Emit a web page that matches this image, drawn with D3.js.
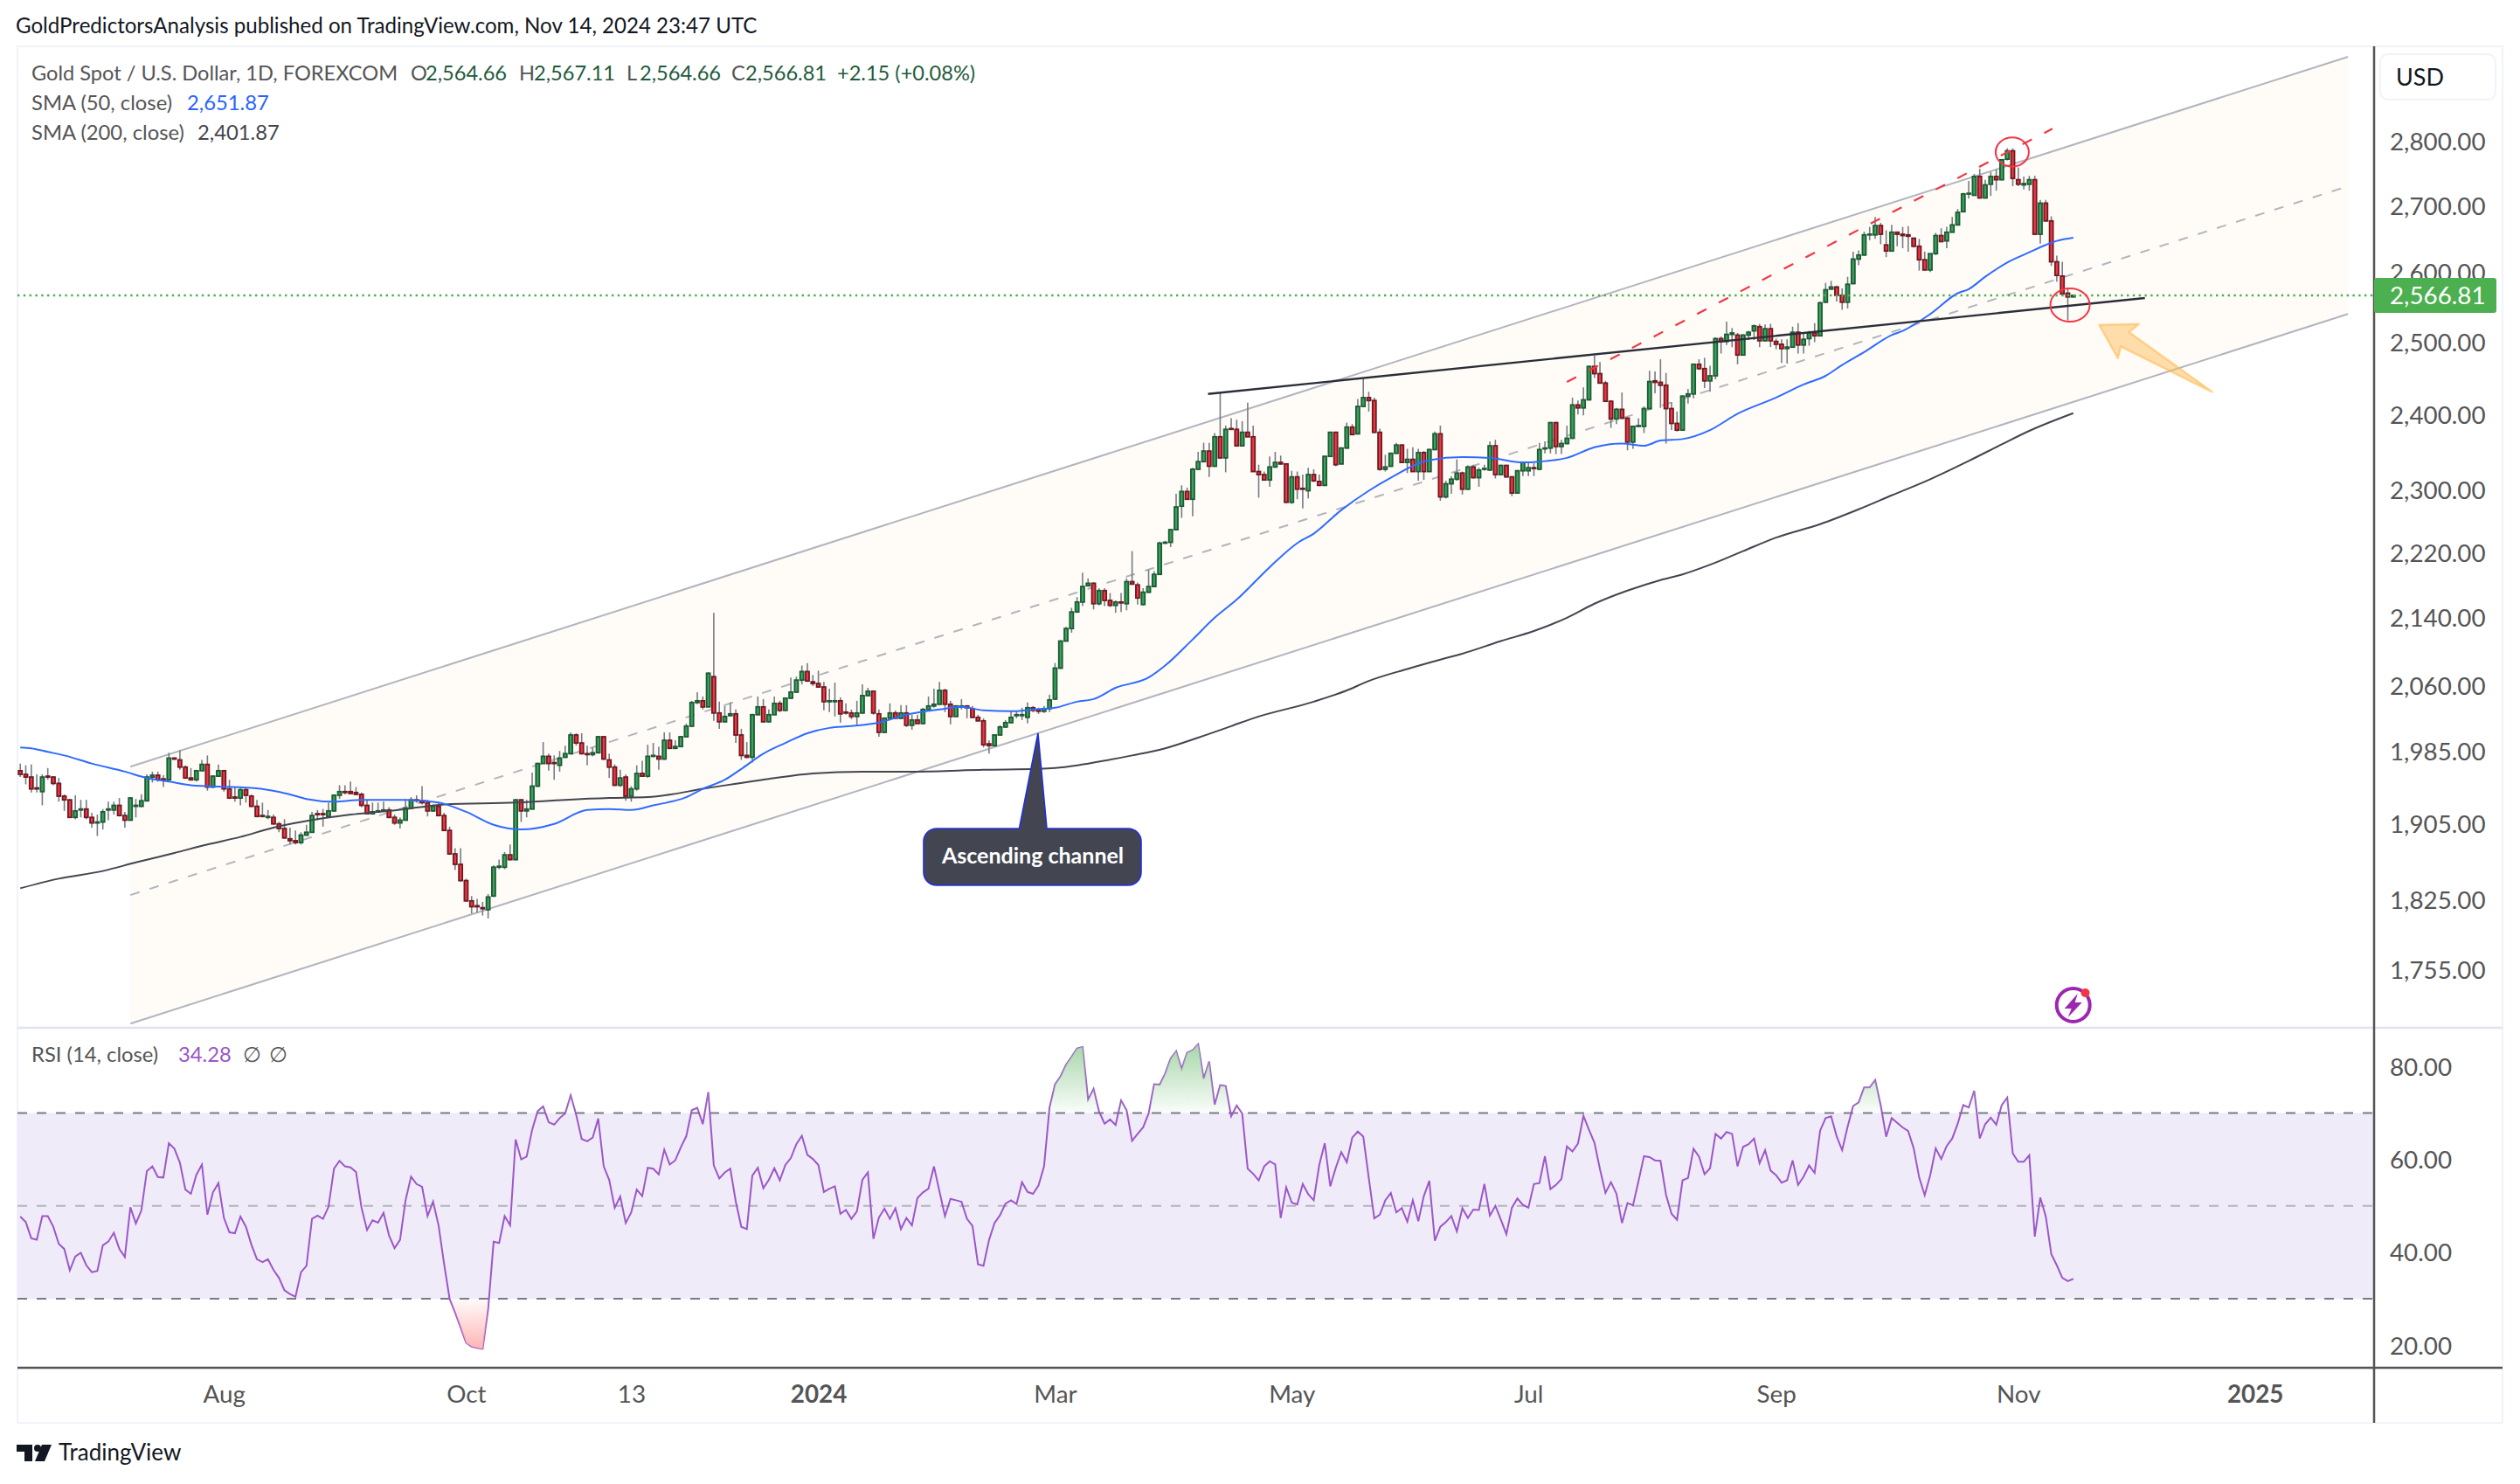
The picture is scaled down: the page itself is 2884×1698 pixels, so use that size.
<![CDATA[<!DOCTYPE html>
<html><head><meta charset="utf-8">
<script src="https://cdn.jsdelivr.net/npm/d3@7"></script>
<style>html,body{margin:0;padding:0;background:#fff}svg{display:block}text{font-family:"Lato","Noto Sans",sans-serif}</style>
</head><body><div id="c"></div>
<script>
const opens=[1963,1959,1956,1944,1940,1957,1956,1949,1935,1931,
1912,1920,1921,1912,1906,1907,1920,1920,1925,1914,
1909,1924,1924,1930,1956,1958,1954,1953,1977,1975,
1967,1955,1953,1963,1970,1945,1957,1963,1943,1934,
1933,1942,1935,1924,1914,1912,1912,1905,1900,1889,
1887,1885,1893,1896,1916,1916,1913,1919,1936,1940,
1940,1939,1937,1925,1916,1918,1919,1920,1912,1906,
1909,1922,1931,1930,1928,1919,1924,1914,1898,1873,
1862,1845,1824,1819,1817,1815,1829,1859,1859,1872,
1867,1931,1919,1921,1946,1971,1979,1972,1969,1978,
1982,2003,1994,1982,1981,1983,2001,1975,1967,1947,
1956,1935,1943,1960,1957,1979,1979,1976,1997,1988,
1990,2001,2013,2040,2042,2035,2070,2028,2018,2025,
2027,2003,1980,1978,2026,2035,2018,2026,2039,2031,
2045,2052,2066,2076,2064,2062,2058,2041,2041,2042,
2029,2028,2024,2028,2048,2053,2027,2006,2022,2028,
2022,2028,2014,2020,2016,2032,2036,2038,2054,2038,
2024,2035,2036,2033,2023,2019,1993,1991,2003,2012,
2017,2025,2025,2023,2034,2031,2030,2033,2044,2080,
2112,2127,2147,2159,2179,2182,2157,2173,2161,2155,
2159,2157,2184,2180,2156,2171,2178,2193,2232,2233,
2249,2279,2298,2288,2327,2337,2351,2331,2370,2342,
2381,2380,2358,2376,2370,2324,2320,2313,2330,2336,
2334,2284,2317,2302,2299,2320,2311,2306,2344,2376,
2334,2355,2383,2374,2411,2423,2419,2376,2327,2331,
2348,2359,2336,2340,2324,2349,2324,2353,2374,2291,
2308,2314,2322,2301,2330,2316,2327,2326,2358,2320,
2332,2317,2296,2325,2325,2329,2327,2354,2355,2389,
2357,2361,2368,2413,2409,2420,2466,2456,2443,2418,
2394,2407,2395,2363,2384,2384,2408,2446,2444,2440,
2408,2388,2379,2425,2428,2469,2463,2446,2453,2505,
2501,2511,2510,2482,2510,2516,2522,2502,2519,2501,
2497,2491,2493,2514,2496,2505,2513,2509,2557,2576,
2579,2567,2557,2584,2620,2626,2656,2656,2670,2641,
2632,2660,2657,2656,2651,2639,2619,2604,2628,2655,
2647,2660,2671,2691,2718,2716,2745,2712,2733,2745,
2740,2772,2785,2740,2732,2733,2740,2657,2704,2677,
2616,2595,2570,2564.66];
const closes=[1959,1956,1943,1943,1956,1956,1949,1935,1931,1912,
1919,1921,1912,1906,1907,1918,1921,1925,1914,1909,
1933,1925,1930,1956,1958,1953,1953,1977,1976,1967,
1955,1953,1963,1970,1945,1957,1963,1943,1933,1933,
1942,1936,1924,1913,1913,1913,1905,1900,1890,1887,
1885,1893,1896,1914,1915,1915,1919,1936,1940,1939,
1938,1937,1925,1916,1918,1919,1920,1912,1906,1909,
1922,1931,1930,1928,1919,1924,1914,1898,1873,1862,
1845,1824,1818,1818,1816,1828,1859,1860,1872,1867,
1931,1919,1921,1946,1971,1979,1971,1971,1977,1982,
2003,1994,1982,1981,1983,2001,1976,1967,1947,1955,
1935,1943,1960,1957,1979,1980,1976,1997,1988,1990,
2001,2013,2040,2042,2035,2074,2028,2018,2024,2027,
2003,1980,1978,2026,2035,2018,2026,2039,2031,2045,
2052,2066,2076,2065,2062,2058,2041,2042,2042,2027,
2028,2024,2028,2048,2053,2028,2006,2022,2028,2022,
2028,2014,2020,2016,2032,2036,2038,2054,2038,2024,
2036,2036,2034,2023,2019,1992,1991,2003,2012,2017,
2023,2026,2026,2034,2031,2030,2033,2043,2080,2112,
2127,2147,2159,2178,2182,2157,2173,2161,2155,2159,
2158,2184,2181,2164,2171,2178,2193,2232,2233,2249,
2278,2298,2288,2327,2337,2351,2331,2370,2342,2380,
2380,2358,2376,2370,2324,2320,2313,2330,2336,2334,
2284,2317,2301,2301,2320,2312,2306,2344,2376,2333,
2355,2383,2373,2411,2423,2419,2376,2327,2330,2348,
2359,2336,2340,2324,2349,2324,2353,2374,2291,2308,
2314,2322,2301,2330,2316,2326,2328,2358,2320,2332,
2317,2296,2325,2336,2329,2328,2353,2355,2389,2357,
2361,2368,2413,2409,2420,2466,2456,2443,2418,2394,
2407,2395,2363,2384,2385,2408,2445,2444,2440,2408,
2388,2379,2425,2428,2469,2463,2446,2453,2505,2501,
2511,2513,2482,2510,2514,2523,2502,2519,2502,2497,
2491,2493,2514,2496,2504,2513,2509,2556,2575,2579,
2567,2557,2583,2620,2626,2656,2657,2670,2657,2632,
2660,2657,2655,2654,2639,2619,2604,2628,2655,2646,
2660,2671,2690,2718,2719,2745,2712,2732,2745,2740,
2771,2785,2742,2733,2734,2740,2657,2704,2677,2616,
2596,2569,2564.66,2566.81];
const highs=[1971,1969,1970,1959,1959,1966,1957,1955,1937,1932,
1936,1931,1931,1917,1915,1921,1929,1929,1933,1918,
1934,1932,1937,1959,1962,1962,1958,1983,1978,1986,
1969,1966,1964,1975,1980,1958,1970,1964,1953,1945,
1945,1945,1937,1931,1928,1920,1915,1907,1910,1901,
1898,1896,1904,1918,1920,1921,1928,1937,1947,1947,
1951,1945,1939,1931,1928,1928,1929,1923,1915,1912,
1932,1934,1936,1946,1931,1926,1928,1917,1902,1879,
1879,1847,1829,1826,1823,1831,1861,1867,1875,1883,
1932,1932,1931,1961,1972,1995,1982,1980,1985,1991,
2006,2005,2005,1991,1989,2002,2002,1982,1970,1964,
1959,1946,1969,1974,1992,1994,1990,2006,2006,1997,
2002,2016,2042,2052,2047,2075,2146,2041,2036,2040,
2032,2010,1995,2027,2047,2044,2032,2047,2042,2046,
2069,2070,2083,2086,2072,2077,2064,2056,2063,2046,
2039,2032,2042,2061,2057,2054,2032,2023,2039,2031,
2037,2037,2026,2026,2034,2047,2056,2064,2056,2042,
2037,2044,2037,2036,2026,2022,1997,2004,2014,2020,
2030,2030,2034,2040,2036,2034,2036,2049,2086,2113,
2129,2152,2165,2195,2188,2183,2176,2176,2170,2161,
2170,2188,2222,2183,2176,2199,2197,2234,2235,2250,
2295,2306,2303,2329,2350,2362,2362,2375,2429,2385,
2395,2393,2391,2416,2385,2333,2324,2344,2350,2345,
2335,2325,2324,2320,2329,2327,2320,2345,2377,2377,
2356,2389,2387,2421,2449,2431,2423,2381,2346,2349,
2362,2360,2354,2356,2354,2351,2354,2377,2385,2312,
2318,2340,2324,2332,2333,2329,2333,2364,2366,2333,
2333,2318,2326,2337,2336,2335,2362,2364,2390,2390,
2366,2385,2423,2419,2437,2467,2481,2472,2446,2419,
2409,2430,2397,2385,2395,2411,2460,2459,2476,2457,
2417,2404,2426,2435,2470,2476,2478,2467,2507,2508,
2529,2520,2513,2511,2516,2525,2526,2525,2526,2505,
2504,2504,2522,2527,2512,2516,2527,2558,2585,2588,
2581,2577,2594,2631,2633,2661,2668,2683,2674,2663,
2671,2661,2668,2669,2652,2650,2631,2628,2659,2666,
2668,2683,2695,2720,2738,2749,2757,2740,2752,2756,
2772,2789,2789,2759,2745,2746,2746,2709,2709,2684,
2625,2616,2578,2567.11];
const lows=[1956,1948,1939,1939,1925,1953,1947,1929,1919,1912,
1910,1912,1910,1901,1892,1899,1909,1915,1913,1901,
1909,1912,1923,1929,1950,1951,1945,1952,1975,1964,
1954,1952,1951,1963,1941,1944,1957,1940,1932,1929,
1925,1928,1923,1913,1912,1910,1904,1896,1889,1883,
1883,1883,1892,1896,1909,1902,1912,1918,1932,1937,
1937,1936,1923,1915,1915,1917,1918,1911,1904,1900,
1909,1921,1928,1926,1913,1918,1913,1898,1872,1856,
1844,1823,1811,1812,1809,1806,1828,1857,1857,1866,
1866,1907,1912,1921,1945,1971,1963,1953,1962,1977,
1982,1991,1981,1969,1979,1983,1975,1955,1946,1945,
1930,1929,1941,1956,1955,1978,1964,1975,1987,1987,
1990,2000,2012,2038,2032,2035,2019,2010,2017,2024,
1994,1975,1977,1972,2026,2017,2017,2026,2029,2030,
2044,2052,2061,2064,2059,2057,2031,2029,2024,2017,
2026,2021,2014,2027,2047,2026,2001,2005,2021,2021,
2021,2012,2009,2015,2015,2031,2034,2037,2029,2015,
2024,2032,2022,2022,2019,1989,1982,1990,2002,2011,
2016,2022,2020,2016,2029,2027,2028,2029,2043,2079,
2112,2122,2146,2154,2178,2150,2155,2154,2153,2146,
2147,2149,2180,2156,2155,2170,2177,2192,2231,2227,
2248,2264,2287,2266,2326,2336,2317,2330,2341,2323,
2379,2357,2357,2370,2324,2290,2312,2304,2329,2333,
2283,2282,2288,2276,2289,2310,2305,2305,2343,2331,
2333,2354,2373,2373,2410,2404,2375,2325,2324,2330,
2348,2335,2322,2324,2312,2313,2324,2352,2286,2289,
2295,2312,2294,2300,2315,2304,2325,2325,2315,2319,
2316,2292,2295,2318,2318,2318,2326,2348,2348,2347,
2347,2360,2368,2400,2399,2419,2450,2442,2417,2382,
2387,2394,2352,2354,2383,2375,2407,2429,2409,2361,
2379,2377,2378,2415,2422,2461,2436,2431,2448,2484,
2496,2493,2469,2482,2503,2503,2493,2501,2493,2490,
2471,2470,2492,2484,2484,2495,2500,2508,2556,2575,
2558,2546,2548,2583,2611,2625,2648,2650,2642,2623,
2631,2639,2636,2631,2637,2603,2603,2601,2626,2645,
2636,2660,2670,2690,2711,2716,2711,2711,2715,2723,
2739,2770,2730,2730,2725,2723,2656,2643,2676,2610,
2587,2568,2531,2564.66];
const rsiValues=[47.7,46.5,43.0,42.7,47.8,47.8,45.5,41.8,40.7,36.1,
39.1,39.9,37.2,35.7,36.0,41.5,42.3,44.2,40.7,39.0,
49.7,46.2,49.0,57.5,58.5,56.2,56.1,63.5,62.3,59.3,
53.5,52.6,56.7,58.9,48.1,52.9,54.9,47.4,44.3,44.1,
47.7,45.5,41.6,38.5,37.9,38.5,36.2,34.5,31.8,31.0,
30.4,35.7,37.1,47.2,47.9,47.2,49.8,58.0,59.7,58.5,
58.3,57.3,49.6,44.8,46.9,46.4,48.5,43.6,40.9,42.7,
51.2,56.3,54.7,54.1,47.8,50.9,45.8,37.5,30.0,27.0,
23.8,20.5,19.7,19.4,19.2,27.7,42.3,42.0,47.8,45.8,
64.3,60.0,60.6,66.4,70.4,71.4,68.0,67.5,68.9,69.9,
73.8,69.6,64.4,63.9,64.7,68.8,58.5,55.6,49.6,52.0,
46.3,48.6,53.5,52.1,58.2,58.0,56.8,62.1,58.9,59.8,
62.6,65.0,70.6,71.1,67.6,74.5,58.7,55.9,57.2,58.0,
50.9,45.5,45.0,56.5,58.2,53.8,55.6,58.1,55.5,58.8,
60.3,63.3,65.1,61.0,60.1,58.8,53.0,53.7,54.2,48.3,
49.1,47.2,48.8,55.6,57.2,42.9,47.5,49.4,47.2,49.5,
45.0,47.4,45.8,51.7,52.9,53.7,58.5,53.1,47.8,51.5,
51.2,50.9,47.2,45.7,37.4,37.1,42.6,46.3,48.0,50.5,
51.2,50.4,55.1,53.0,52.6,54.4,58.5,71.2,76.2,77.9,
80.4,82.1,83.9,84.2,72.9,75.2,70.3,67.7,68.6,67.4,
72.7,70.6,64.0,65.5,66.9,69.9,76.2,76.1,78.5,81.7,
83.3,79.5,83.0,83.5,84.8,77.4,81.1,71.8,76.0,75.8,
69.3,71.6,69.9,58.0,56.9,55.5,58.5,59.6,58.9,47.4,
54.0,50.7,50.3,54.7,52.5,51.2,58.8,63.5,54.2,58.2,
61.6,59.4,64.7,66.0,64.9,56.0,47.3,48.1,51.2,52.8,
48.6,49.5,46.6,51.2,46.7,52.1,55.4,42.5,45.5,46.5,
47.8,44.5,49.5,47.4,49.2,49.1,54.7,47.9,50.0,47.0,
43.9,49.6,51.6,50.2,49.6,54.7,54.9,60.7,53.6,54.5,
55.8,62.8,61.7,63.4,69.4,66.4,63.6,57.9,52.8,55.1,
52.6,46.3,50.6,50.1,55.3,60.7,60.5,59.8,59.7,52.4,
48.3,47.0,55.5,56.0,62.3,60.6,56.8,58.1,65.5,64.5,
65.9,65.5,58.5,62.7,63.3,64.5,59.2,62.0,57.6,56.6,
55.0,55.5,59.8,54.5,56.3,58.7,57.1,66.2,68.9,69.3,
65.0,62.0,67.1,71.5,72.3,75.5,75.5,77.1,71.7,64.9,
68.9,67.9,66.9,66.1,62.4,56.1,52.3,56.6,62.4,60.1,
62.9,64.5,67.7,71.7,71.2,74.8,64.5,67.6,69.0,67.5,
71.7,73.3,61.3,59.5,59.5,60.9,43.4,51.8,47.7,39.6,
37.2,34.5,33.8,34.28];
const sma50Bars=[1,3,6,9,14,20,24,28,32,35,43,50,53,58,63,71,77,82,87,92,98,104,108,112,116,122,125,129,132,136,140,144,148,152,157,162,168,172,176,181,185,189,193,196,200,206,209,214,218,222,228,233,236,241,246,250,257,263,268,274,277,282,287,292,296,299,303,308,313,320,325,329,332,336,341,343,348,353,355,358,362,366,369,371,374];
const sma50Values=[1989,1988,1984,1980,1971,1962,1955,1951,1947,1946,1944,1937,1932,1929,1931,1931,1928,1918,1904,1899,1905,1920,1921,1920,1925,1934,1943,1953,1965,1982,1994,2005,2011,2013,2017,2026,2032,2035,2031,2030,2032,2034,2041,2044,2057,2069,2083,2114,2140,2162,2202,2232,2244,2274,2299,2316,2339,2343,2342,2336,2337,2342,2356,2361,2358,2365,2367,2379,2401,2423,2441,2453,2468,2486,2510,2516,2540,2570,2576,2594,2615,2630,2641,2647,2651.87];
const sma200Bars=[1,8,16,22,29,35,41,47,52,61,68,75,78,91,100,108,115,126,137,145,154,164,176,186,189,193,196,203,209,215,221,225,236,242,246,253,259,263,270,276,282,287,293,299,303,308,314,320,328,335,341,348,355,361,366,374];
const sma200Values=[1837,1847,1855,1864,1874,1883,1891,1901,1907,1915,1919,1924,1926,1928,1931,1933,1934,1944,1954,1960,1962,1962,1964,1965,1966,1969,1972,1980,1988,2000,2013,2022,2041,2054,2065,2079,2090,2097,2112,2124,2140,2157,2173,2186,2193,2205,2222,2239,2256,2275,2293,2314,2338,2360,2378,2401.87];
const priceTicks=[2800,2700,2600,2500,2400,2300,2220,2140,2060,1985,1905,1825,1755];
const rsiTicks=[80,60,40,20];
const timeTickBars=[38,82,112,146,189,232,275,320,364,407];
const timeTickLabels=["Aug","Oct","13","2024","Mar","May","Jul","Sep","Nov","2025"];
const boldTimeLabels=["2024","2025"];
const channelUpper=[[21,1967.5],[423.9,2936.8]];
const channelMiddle=[[21,1830],[423.9,2730]];
const channelLower=[[21,1702],[423.9,2540]];
const resistanceLine=[[216.8,2428],[387,2563]];
const redDashLine=[[282,2444.6],[370.2,2820]];
const circleMarks=[[362.9,2783],[373.4,2553]];
const arrowShape=[[378.7,2524.5],[385.9,2525.8],[384.1,2514.3],[399.2,2431],[382.6,2494],[382.1,2477.5]];
const calloutTip=[[185.9,2005]];
const lastPrice=2566.81;

const W=2884,H=1698;
const frame={l:20,r:2864,t:53,b:1628},axisX=2717,axisY=1565,sepY=1176;
const svg=d3.select("#c").append("svg").attr("width",W).attr("height",H).attr("viewBox",`0 0 ${W} ${H}`);
svg.append("rect").attr("width",W).attr("height",H).attr("fill","#fff");
const defs=svg.append("defs");
const x=d3.scaleLinear().domain([1,374]).range([23.2,2372.8]);
const y=d3.scaleLog().domain([2800,1755]).range([161.7,1109]);
const ry=d3.scaleLinear().domain([70,30]).range([1273.5,1486]);
const bars=opens.map((o,i)=>({i:i+1,o,h:highs[i],l:lows[i],c:closes[i]}));
const pt=d=>[x(d[0]),y(d[1])];

// frame
svg.append("rect").attr("x",frame.l).attr("y",frame.t).attr("width",frame.r-frame.l).attr("height",frame.b-frame.t).attr("fill","none").attr("stroke","#f0f3fa").attr("stroke-width",2);
defs.append("clipPath").attr("id","pc").append("rect").attr("x",frame.l).attr("y",frame.t).attr("width",axisX-frame.l).attr("height",sepY-frame.t);
const main=svg.append("g").attr("clip-path","url(#pc)");

// channel
const poly=[channelUpper[0],channelUpper[1],channelLower[1],channelLower[0]].map(pt);
main.append("polygon").attr("points",poly.join(" ")).attr("fill","#fffcf7");
const ln=d3.line().x(d=>x(d[0])).y(d=>y(d[1]));
[channelUpper,channelLower].forEach(c=>main.append("path").attr("d",ln(c)).attr("fill","none").attr("stroke","#b2b5be").attr("stroke-width",2));
main.append("path").attr("d",ln(channelMiddle)).attr("fill","none").attr("stroke","#b2b5be").attr("stroke-width",2).attr("stroke-dasharray","11 12");

// candles
const cg=main.append("g");
cg.selectAll("line").data(bars).join("line").attr("x1",d=>x(d.i)).attr("x2",d=>x(d.i)).attr("y1",d=>y(d.h)).attr("y2",d=>y(d.l)).attr("stroke","#787b86").attr("stroke-width",1.6);
cg.selectAll("rect").data(bars).join("rect")
 .attr("x",d=>x(d.i)-2).attr("width",4)
 .attr("y",d=>y(Math.max(d.o,d.c))).attr("height",d=>Math.max(.6,Math.abs(y(d.o)-y(d.c))))
 .attr("fill",d=>d.c>=d.o?"#3aa35c":"#f23645")
 .attr("stroke",d=>d.c>=d.o?"#1c5b34":"#6e1a20").attr("stroke-width",1.8);

// moving averages
const sma=(b,v)=>b.map((k,i)=>[k,v[i]]);
const smooth=d3.line().x(d=>x(d[0])).y(d=>y(d[1])).curve(d3.curveMonotoneX);
main.append("path").attr("d",smooth(sma(sma200Bars,sma200Values))).attr("fill","none").attr("stroke","#43464f").attr("stroke-width",2);
main.append("path").attr("d",smooth(sma(sma50Bars,sma50Values))).attr("fill","none").attr("stroke","#2f6bff").attr("stroke-width",2);

// last price line
main.append("line").attr("x1",frame.l).attr("x2",axisX).attr("y1",y(lastPrice)).attr("y2",y(lastPrice)).attr("stroke","#4caf50").attr("stroke-width",2.4).attr("stroke-dasharray","2.4 4.4");

// drawings
main.append("path").attr("d",ln(resistanceLine)).attr("fill","none").attr("stroke","#2a2e39").attr("stroke-width",2.4);
main.append("path").attr("d",ln(redDashLine)).attr("fill","none").attr("stroke","#f23645").attr("stroke-width",2.2).attr("stroke-dasharray","12 16");
const radii=[[19,16.7],[22.5,19]];
circleMarks.forEach((c,i)=>main.append("ellipse").attr("cx",x(c[0])).attr("cy",y(c[1])).attr("rx",radii[i][0]).attr("ry",radii[i][1]).attr("fill","none").attr("stroke","#f23645").attr("stroke-width",2));
main.append("polygon").attr("points",arrowShape.map(pt).join(" ")).attr("fill","#ffb74d").attr("fill-opacity",.45).attr("stroke","#ffb74d").attr("stroke-opacity",.55).attr("stroke-width",2.5).attr("stroke-linejoin","round");

// callout
const tip=pt(calloutTip[0]);
const cb={x0:1057,x1:1306,y0:948,y1:1013,r:15,b0:1166.5,b1:1198};
const cp=d3.path();
cp.moveTo(cb.x0+cb.r,cb.y0);cp.lineTo(cb.b0,cb.y0);cp.lineTo(tip[0],tip[1]);cp.lineTo(cb.b1,cb.y0);cp.lineTo(cb.x1-cb.r,cb.y0);
cp.arcTo(cb.x1,cb.y0,cb.x1,cb.y0+cb.r,cb.r);cp.lineTo(cb.x1,cb.y1-cb.r);cp.arcTo(cb.x1,cb.y1,cb.x1-cb.r,cb.y1,cb.r);
cp.lineTo(cb.x0+cb.r,cb.y1);cp.arcTo(cb.x0,cb.y1,cb.x0,cb.y1-cb.r,cb.r);cp.lineTo(cb.x0,cb.y0+cb.r);cp.arcTo(cb.x0,cb.y0,cb.x0+cb.r,cb.y0,cb.r);cp.closePath();
main.append("path").attr("d",cp.toString()).attr("fill","#434651").attr("stroke","#1f2fe0").attr("stroke-width",1.6);
main.append("text").attr("x",1182).attr("y",982).attr("text-anchor","middle").attr("dominant-baseline","middle").attr("fill","#fff").attr("font-size",25).attr("font-weight",700).text("Ascending channel");

// flash icon
const ic=svg.append("g").attr("transform","translate(2372.7,1150)");
ic.append("circle").attr("r",19).attr("fill","none").attr("stroke","#9c27b0").attr("stroke-width",4);
ic.append("path").attr("d","M5,-13 L-10,4 L-2,4 L-6,14 L10,-3 L2,-3 Z").attr("fill","#9c27b0");
ic.append("circle").attr("cx",13.8).attr("cy",-14).attr("r",5).attr("fill","#f23645");

// separators
svg.append("line").attr("x1",frame.l).attr("x2",frame.r).attr("y1",sepY).attr("y2",sepY).attr("stroke","#e0e3eb").attr("stroke-width",2.5);

// RSI pane
defs.append("clipPath").attr("id","rc").append("rect").attr("x",frame.l).attr("y",sepY).attr("width",axisX-frame.l).attr("height",axisY-sepY);
const rp=svg.append("g").attr("clip-path","url(#rc)");
rp.append("rect").attr("x",frame.l).attr("width",axisX-frame.l).attr("y",ry(70)).attr("height",ry(30)-ry(70)).attr("fill","#f0ebf8");
const gG=defs.append("linearGradient").attr("id","gg").attr("gradientUnits","userSpaceOnUse").attr("x1",0).attr("x2",0).attr("y1",ry(85)).attr("y2",ry(70));
gG.append("stop").attr("offset",0).attr("stop-color","#a5d6a7");gG.append("stop").attr("offset",1).attr("stop-color","#a5d6a7").attr("stop-opacity",.05);
const gR=defs.append("linearGradient").attr("id","gr").attr("gradientUnits","userSpaceOnUse").attr("x1",0).attr("x2",0).attr("y1",ry(30)).attr("y2",ry(19));
gR.append("stop").attr("offset",0).attr("stop-color","#ffb3b3").attr("stop-opacity",.05);gR.append("stop").attr("offset",1).attr("stop-color","#ffb3b3");
defs.append("clipPath").attr("id","above").append("rect").attr("x",0).attr("width",W).attr("y",sepY).attr("height",ry(70)-sepY);
defs.append("clipPath").attr("id","below").append("rect").attr("x",0).attr("width",W).attr("y",ry(30)).attr("height",axisY-ry(30));
const ar=b=>d3.area().x((d,i)=>x(i+1)).y0(ry(b)).y1(d=>ry(d));
svg.append("path").attr("clip-path","url(#above)").attr("d",ar(70)(rsiValues)).attr("fill","url(#gg)");
svg.append("path").attr("clip-path","url(#below)").attr("d",ar(30)(rsiValues)).attr("fill","url(#gr)");
[[70,"#787b86"],[50,"#b2b5be"],[30,"#787b86"]].forEach(([v,c])=>rp.append("line").attr("x1",frame.l).attr("x2",axisX).attr("y1",ry(v)).attr("y2",ry(v)).attr("stroke",c).attr("stroke-width",2).attr("stroke-dasharray","11 11"));
rp.append("path").attr("d",d3.line().x((d,i)=>x(i+1)).y(d=>ry(d))(rsiValues)).attr("fill","none").attr("stroke","#9c57c9").attr("stroke-width",2);

// axes lines
svg.append("line").attr("x1",frame.l).attr("x2",frame.r).attr("y1",axisY).attr("y2",axisY).attr("stroke","#555").attr("stroke-width",2.5);
svg.append("line").attr("x1",axisX).attr("x2",axisX).attr("y1",frame.t).attr("y2",frame.b).attr("stroke","#555").attr("stroke-width",2.5);

// price / rsi / time axes
const fs=27.8,tc="#555";
const fmt=d3.format(",.2f");
const styleAxis=g=>{g.select(".domain").remove();g.selectAll(".tick line").remove();g.selectAll("text").attr("font-family",'"Lato","Noto Sans",sans-serif').attr("font-size",fs).attr("fill",tc);};
svg.append("g").attr("transform",`translate(${axisX},0)`).call(d3.axisRight(y).tickValues(priceTicks).tickFormat(fmt).tickSize(0).tickPadding(18)).call(styleAxis).selectAll("text").attr("dy","0.36em");
svg.append("g").attr("transform",`translate(${axisX},0)`).call(d3.axisRight(ry).tickValues(rsiTicks).tickFormat(fmt).tickSize(0).tickPadding(18)).call(styleAxis).selectAll("text").attr("dy","0.36em");
const xa=svg.append("g").attr("transform",`translate(0,${axisY})`).call(d3.axisBottom(x).tickValues(timeTickBars).tickFormat((d,i)=>timeTickLabels[i]).tickSize(0).tickPadding(20)).call(styleAxis);
xa.selectAll("text").attr("font-weight",function(){return boldTimeLabels.includes(this.textContent)?700:400;});

// price tag
svg.append("rect").attr("x",axisX).attr("y",y(lastPrice)-20).attr("width",140).attr("height",40).attr("rx",3).attr("fill","#4caf50");
svg.append("text").attr("x",axisX+18).attr("y",y(lastPrice)).attr("dy","0.36em").attr("fill","#fff").attr("font-size",fs).text(fmt(lastPrice));

// USD box
svg.append("rect").attr("x",2724).attr("y",62).attr("width",132).attr("height",52).attr("rx",9).attr("fill","#fff").attr("stroke","#f0f3fa").attr("stroke-width",2);
svg.append("text").attr("x",2742).attr("y",88).attr("dy","0.36em").attr("fill","#131722").attr("font-size",27).text("USD");

// texts
const T=(s,tx,ty,c,sz)=>svg.append("text").attr("x",tx).attr("y",ty).attr("dominant-baseline","middle").attr("fill",c).attr("font-size",sz||23.8).text(s);
T("GoldPredictorsAnalysis published on TradingView.com, Nov 14, 2024 23:47 UTC",18,32,"#131722",24.1);
const lg="#555",gv="#1f5b3c";
T("Gold Spot / U.S. Dollar, 1D, FOREXCOM",36,86,lg,23.6);
[["O",470,"2,564.66",487],["H",594,"2,567.11",611],["L",717,"2,564.66",732],["C",837,"2,566.81",853]].forEach(a=>{T(a[0],a[1],86,lg,23.6);T(a[2],a[3],86,gv,23.6);});
T("+2.15 (+0.08%)",958,86,gv,23.6);
T("SMA (50, close)",36,120,lg);T("2,651.87",214,120,"#2962ff");
T("SMA (200, close)",36,154,lg);T("2,401.87",226,154,"#43464f");
T("RSI (14, close)",36,1209,lg);T("34.28",204,1209,"#9c57c9");T("∅",278,1209,lg);T("∅",308,1209,lg);

// TradingView logo
const lgo=svg.append("g").attr("fill","#131722");
lgo.append("path").attr("d","M19,1653 H37 V1672 H28 V1661 H19 Z");
lgo.append("circle").attr("cx",43).attr("cy",1657).attr("r",4);
lgo.append("path").attr("d","M48,1653 H59 L51,1672 H40 Z");
T("TradingView",67,1664,"#131722",26);
</script></body></html>]]>
